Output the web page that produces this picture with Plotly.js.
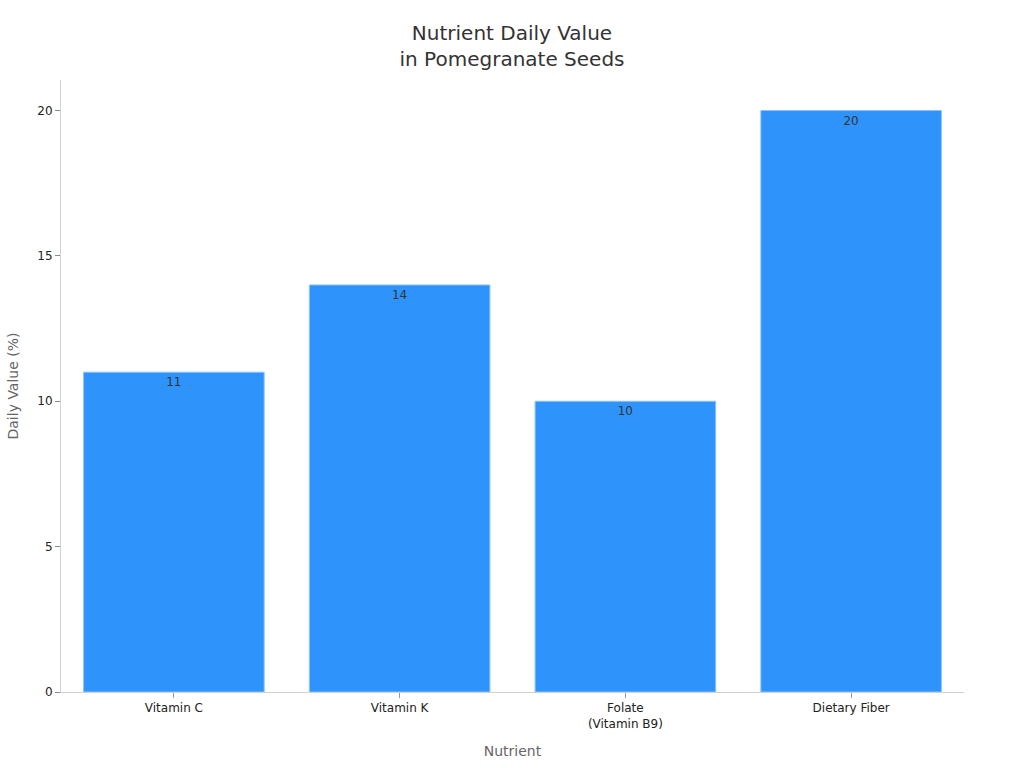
<!DOCTYPE html>
<html>
<head>
<meta charset="utf-8">
<script src="https://cdn.plot.ly/plotly-3.0.1.min.js"></script>
<style>
  html, body { margin: 0; padding: 0; background: #fff; }
  #chart { width: 1024px; height: 768px; }
</style>
</head>
<body>
<div id="chart"></div>
<script>
const nutrients = ["Vitamin C", "Vitamin K", "Folate<br>(Vitamin B9)", "Dietary Fiber"];
const daily_values = [11, 14, 10, 20];
const y_ticks = [0, 5, 10, 15, 20];

const traces = [{
    type: "bar",
    x: nutrients,
    y: daily_values,
    text: daily_values.map(String),
    textposition: "inside",
    insidetextanchor: "end",
    textangle: 0,
    textfont: { family: "DejaVu Sans", size: 12, color: "#333333" },
    marker: { color: "#2E93FA", line: { color: "#8cc4fc", width: 1 } },
    hoverinfo: "none"
}];

const layout = {
    width: 1024, height: 768,
    margin: { l: 61, r: 60, t: 80, b: 76, pad: 0 },
    paper_bgcolor: "#ffffff",
    plot_bgcolor: "#ffffff",
    font: { family: "DejaVu Sans", size: 12, color: "#222222" },
    title: {
        text: "Nutrient Daily Value<br>in Pomegranate Seeds",
        font: { family: "DejaVu Sans", size: 20, color: "#333333" },
        x: 0.5, xanchor: "center", y: 0.948, yanchor: "top"
    },
    bargap: 0.2,
    showlegend: false,
    xaxis: {
        title: { text: "Nutrient", font: { size: 14, color: "#666666" }, standoff: 16 },
        showline: true, linecolor: "#d0d0d0", linewidth: 1,
        ticks: "outside", tickcolor: "#999999", ticklen: 5,
        tickfont: { size: 12, color: "#222222" },
        showgrid: false, zeroline: false
    },
    yaxis: {
        title: { text: "Daily Value (%)", font: { size: 14, color: "#666666" }, standoff: 15 },
        range: [0, 21.05],
        tickvals: y_ticks,
        showline: true, linecolor: "#d0d0d0", linewidth: 1,
        ticks: "outside", tickcolor: "#888888", ticklen: 5,
        tickfont: { size: 12, color: "#222222" },
        showgrid: false, zeroline: false
    }
};

Plotly.newPlot("chart", traces, layout, { displayModeBar: false, staticPlot: true });
</script>
</body>
</html>
